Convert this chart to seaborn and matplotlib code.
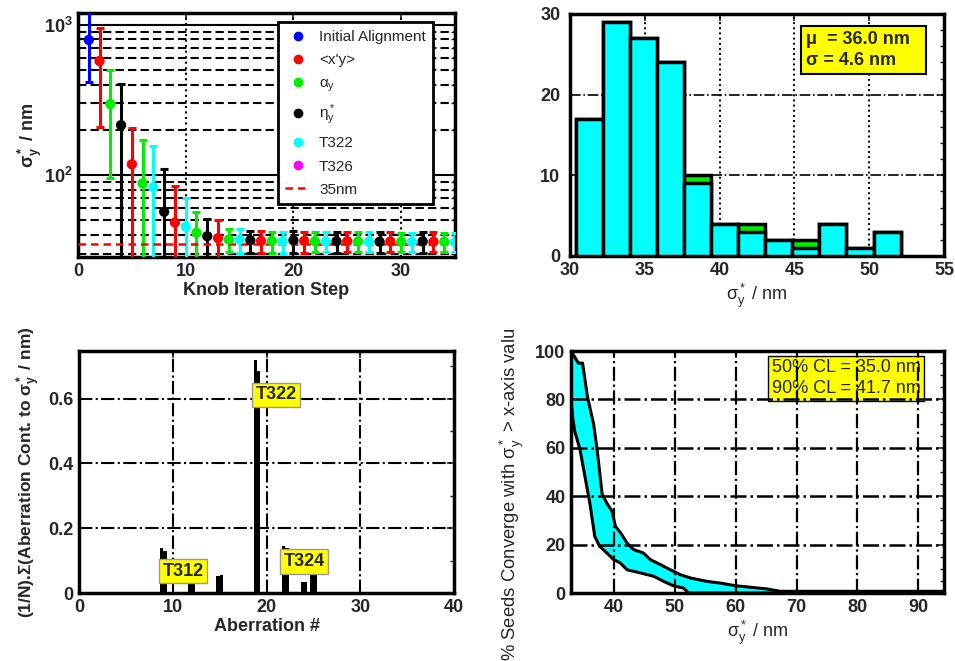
import numpy as np
import matplotlib
matplotlib.use("Agg")
import matplotlib.pyplot as plt
import seaborn as sns
import pandas as pd
from matplotlib.lines import Line2D
from matplotlib.transforms import Bbox

# ---------------- Data ----------------
# Top-left: knob iteration convergence
steps = list(range(1, 36))
step_knob = (["Initial Alignment", "xy", "alpha", "eta", "xy", "alpha", "T322", "eta",
              "xy", "T322", "alpha", "eta", "xy"] +
             ["alpha", "T322", "eta", "xy"] * 5 + ["alpha", "T322"])
step_mean = [794, 575, 297, 215, 118, 88, 83, 57, 48.3, 45.3, 41.3, 39.2, 38.0,
             37.2, 37.2, 36.8, 36.5, 36.5, 36.3, 36.8, 36.5, 36.3, 36.2, 36.3, 36.3,
             36.2, 36.0, 36.0, 36.2, 36.0, 36.0, 36.2, 36.0, 36.0, 35.8]
step_low = [419, 208, 96, 20, 20, 20, 20, 20, 20, 20, 20, 20, 20,
            30.8, 30.5, 30.3, 30.5, 30.5, 30.5, 30.3, 30.5, 30.8, 30.8, 30.5, 30.8,
            30.8, 30.8, 30.5, 30.8, 30.8, 31.0, 30.5, 30.8, 30.8, 31.0]
step_high = [1400, 950, 501, 404, 206, 171, 156, 109, 85, 70, 56.6, 51.4, 50.0,
             44.0, 44.0, 42.5, 42.5, 42.0, 42.0, 42.5, 42.0, 41.5, 41.5, 42.0, 41.5,
             41.5, 41.5, 41.5, 41.5, 41.0, 41.0, 41.5, 41.5, 41.0, 41.0]
knob_names = ["Initial Alignment", "xy", "alpha", "eta", "T322", "T326"]
knob_labels = ["Initial Alignment", "<x'y>", r"$\alpha_y$", r"$\eta^*_y$", "T322", "T326"]
knob_colors = ["#0000ff", "#ff0000", "#00ee00", "#000000", "#00ffff", "#ff00ff"]
target_nm = 35

# Top-right: histogram of final sigma*_y
hist_edges = [30.40, 32.21, 34.02, 35.82, 37.63, 39.44, 41.25, 43.06, 44.86, 46.67, 48.48, 50.29, 52.10]
hist_all = [17, 29, 27, 24, 10, 4, 4, 2, 2, 4, 1, 3]
hist_conv = [17, 29, 27, 24, 9, 4, 3, 2, 1, 4, 1, 3]
hist_text = "\u03bc  = 36.0 nm  \n\u03c3 = 4.6 nm"

# Bottom-left: aberration contributions
aberr_idx = [9, 12, 15, 19, 22, 24, 25]
aberr_a = [0.140, 0.040, 0.054, 0.720, 0.146, 0.034, 0.065]
aberr_b = [0.130, 0.035, 0.055, 0.685, 0.140, 0.034, 0.060]
aberr_tags = ["T312", "T322", "T324"]
aberr_tag_x = [11.1, 21.0, 24.0]
aberr_tag_y = [0.067, 0.612, 0.097]

# Bottom-right: % seeds converging with sigma*_y > x
cl_upper_x = [33.0, 33.5, 34.2, 34.9, 35.7, 36.7, 37.3, 38.1, 38.9, 39.7, 40.3, 41.1, 42.2,
              43.3, 44.9, 46.0, 47.7, 49.3, 50.9, 52.6, 55.3, 57.5, 60.0, 65.1, 67.3, 94.2]
cl_upper_y = [100, 98, 95, 95, 81, 70, 59, 41, 37, 34, 27.5, 25, 20.6,
              17.9, 16.5, 13.8, 11.7, 9.6, 7.6, 6.2, 4.8, 4.1, 3.0, 1.7, 0.7, 0.7]
cl_lower_x = [33.0, 33.3, 33.6, 34.5, 35.3, 36.1, 36.9, 37.7, 38.9, 40.0, 41.1, 42.2,
              44.4, 46.6, 48.2, 49.8, 51.5, 52.3, 94.2]
cl_lower_y = [80, 72, 67, 59, 48, 37, 23.4, 19.3, 16.5, 13.8, 12.4, 9.6,
              8.3, 6.9, 4.8, 3.0, 2.0, 0.0, 0.0]
cl_text = "50% CL = 35.0 nm\n90% CL = 41.7 nm"

# ---------------- Style ----------------
sns.set_style("white")
plt.rcParams['font.family'] = ['Liberation Sans', 'DejaVu Sans']
plt.rcParams['mathtext.fontset'] = 'custom'
plt.rcParams['mathtext.rm'] = 'Liberation Sans'
plt.rcParams['mathtext.it'] = 'Liberation Sans:italic'
plt.rcParams['mathtext.bf'] = 'Liberation Sans:bold'
plt.rcParams['mathtext.default'] = 'regular'
plt.rcParams['axes.linewidth'] = 2.5
plt.rcParams['xtick.direction'] = 'in'
plt.rcParams['ytick.direction'] = 'in'

W, H = 955, 661
fig = plt.figure(figsize=(W / 100, H / 100), dpi=100)


def px_axes(l, t, r, b):
    return fig.add_axes([l / W, 1 - b / H, (r - l) / W, (b - t) / H])


def style_ticks(ax, size=13, ypad=4):
    ax.tick_params(axis='both', which='major', direction='in', top=True, right=True,
                   length=5, width=1.2, labelsize=size, pad=4)
    ax.tick_params(axis='y', which='major', pad=ypad)
    ax.tick_params(axis='both', which='minor', direction='in', top=True, right=True,
                   length=3, width=1.0)
    for lab in ax.get_xticklabels() + ax.get_yticklabels():
        lab.set_fontweight('bold')
    for s in ax.spines.values():
        s.set_linewidth(2.5)
        s.set_color('black')


# ---------------- Top-left ----------------
ax1 = px_axes(78, 13, 455, 257)
df1 = pd.DataFrame({"step": steps, "knob": step_knob, "mean": step_mean,
                    "low": step_low, "high": step_high})
cmap = dict(zip(knob_names, knob_colors))
ax1.set_yscale('log')
for _, r in df1.iterrows():
    ax1.errorbar(r["step"], r["mean"], yerr=[[r["mean"] - r["low"]], [r["high"] - r["mean"]]],
                 fmt='none', ecolor=cmap[r["knob"]], elinewidth=2.2, capsize=3, capthick=2.2,
                 zorder=3)
sns.scatterplot(data=df1, x="step", y="mean", hue="knob", hue_order=knob_names,
                palette=knob_colors, s=55, edgecolor='none', legend=False, ax=ax1, zorder=4)
ax1.axhline(target_nm, color='red', ls='--', lw=1.8, dashes=(3, 2), zorder=3.5)
ax1.set_xlim(0, 35)
ax1.set_ylim(28.5, 1200)
ax1.set_xticks([0, 10, 20, 30])
for v in [100, 1000]:
    ax1.axhline(v, color='black', lw=1.5, zorder=1)
for v in list(range(30, 100, 10)) + list(range(200, 1000, 100)):
    ax1.axhline(v, color='black', lw=1.5, ls='--', dashes=(4, 2), zorder=1)
for v in [10, 20, 30]:
    ax1.axvline(v, color='black', lw=1.5, ls=':', zorder=1)
ax1.set_xlabel("Knob Iteration Step", fontsize=13, fontweight='bold', labelpad=2)
ax1.set_ylabel("\u03c3$^*_y$ / nm", fontsize=13, fontweight='bold', labelpad=0)
style_ticks(ax1)
handles = [Line2D([], [], ls='none', marker='o', ms=6, mfc=c, mec=c) for c in knob_colors]
handles.append(Line2D([], [], color='red', ls='--', lw=1.8, dashes=(3, 2)))
leg = ax1.legend(handles, knob_labels + ["35nm"], loc='upper left',
                 bbox_to_anchor=(0.53, 0.962), fontsize=11, frameon=True, fancybox=False,
                 framealpha=1, edgecolor='black', handlelength=1.6, handletextpad=0.6,
                 labelspacing=0.6, borderpad=0.5, borderaxespad=0)
leg.get_frame().set_linewidth(2)
leg.set_zorder(10)

# ---------------- Top-right ----------------
ax2 = px_axes(570, 14, 944, 256)
centers = [(hist_edges[i] + hist_edges[i + 1]) / 2 for i in range(len(hist_all))]
sns.histplot(x=centers, weights=hist_all, bins=hist_edges, color='#00ee00', alpha=1,
             edgecolor='black', linewidth=2.5, ax=ax2, zorder=3)
sns.histplot(x=centers, weights=hist_conv, bins=hist_edges, color='#00ffff', alpha=1,
             edgecolor='black', linewidth=2.5, ax=ax2, zorder=4)
ax2.set_xlim(30, 55)
ax2.set_ylim(0, 30)
ax2.set_xticks([30, 35, 40, 45, 50, 55])
ax2.set_yticks([0, 10, 20, 30])
ax2.set_yticks(np.arange(0, 31, 2), minor=True)
for v in [10, 20]:
    ax2.axhline(v, color='black', lw=1.2, ls='-.', zorder=1)
for v in [35, 40, 45, 50]:
    ax2.axvline(v, color='black', lw=1.4, ls=':', zorder=1)
ax2.set_xlabel("\u03c3$^*_y$ / nm", fontsize=13, labelpad=2)
ax2.set_ylabel("")
style_ticks(ax2, ypad=7)
ax2.text(0.632, 0.93, hist_text, transform=ax2.transAxes, ha='left', va='top',
         fontsize=13, fontweight='bold', linespacing=1.3, zorder=6,
         bbox=dict(boxstyle='square,pad=0.3', fc='#ffff00', ec='black', lw=1.5))

# ---------------- Bottom-left ----------------
ax3 = px_axes(79, 351, 454, 593)
ax3.bar([x - 0.17 for x in aberr_idx], aberr_a, width=0.36, color='black',
        edgecolor='black', linewidth=0, zorder=3)
ax3.bar([x + 0.17 for x in aberr_idx], aberr_b, width=0.36, color='black',
        edgecolor='black', linewidth=0, zorder=3)
ax3.set_xlim(0, 40)
ax3.set_ylim(0, 0.747)
ax3.set_xticks([0, 10, 20, 30, 40])
ax3.set_yticks([0, 0.2, 0.4, 0.6])
ax3.set_yticklabels(["0", "0.2", "0.4", "0.6"])
ax3.set_yticks(np.arange(0, 0.75, 0.1), minor=True)
for v in [0.2, 0.4, 0.6]:
    ax3.axhline(v, color='black', lw=1.5, ls='-.', zorder=1)
for v in [10, 20, 30]:
    ax3.axvline(v, color='black', lw=1.5, ls='-.', zorder=1)
for t, x, y in zip(aberr_tags, aberr_tag_x, aberr_tag_y):
    ax3.text(x, y, t, ha='center', va='center', fontsize=13, fontweight='bold', zorder=6,
             bbox=dict(boxstyle='square,pad=0.2', fc='#ffff00', ec='#999999', lw=1.0))
ax3.set_xlabel("Aberration #", fontsize=13, fontweight='bold', labelpad=2)
ax3.set_ylabel("(1/N).\u03a3(Aberration Cont. to \u03c3$^*_y$ / nm)", fontsize=12.5,
               fontweight='bold', labelpad=4)
style_ticks(ax3)

# ---------------- Bottom-right ----------------
ax4 = px_axes(571, 351, 944, 593)
poly_x = cl_upper_x + cl_lower_x[::-1]
poly_y = cl_upper_y + cl_lower_y[::-1]
ax4.fill(poly_x, poly_y, color='#00ffff', zorder=2, lw=0)
sns.lineplot(x=cl_upper_x, y=cl_upper_y, color='black', lw=2.2, ax=ax4, zorder=4,
             estimator=None, sort=False)
sns.lineplot(x=cl_lower_x, y=cl_lower_y, color='black', lw=2.2, ax=ax4, zorder=4,
             estimator=None, sort=False)
ax4.set_xlim(33.0, 94.2)
ax4.set_ylim(0, 100)
ax4.set_xticks([40, 50, 60, 70, 80, 90])
ax4.set_yticks([0, 20, 40, 60, 80, 100])
ax4.set_yticks(np.arange(0, 101, 5), minor=True)
ax4.text(0.538, 0.965, cl_text, transform=ax4.transAxes, ha='left', va='top',
         fontsize=13, linespacing=1.3, zorder=3,
         bbox=dict(boxstyle='square,pad=0.2', fc='#ffff00', ec='black', lw=1.0))
for v in [20, 40, 60, 80]:
    ax4.axhline(v, color='black', lw=1.8, ls='-.', zorder=5)
for v in [40, 50, 60, 70, 80, 90]:
    ax4.axvline(v, color='black', lw=1.6, ls='-.', zorder=5)
ax4.set_xlabel("\u03c3$^*_y$ / nm", fontsize=13, labelpad=2)
ax4.set_ylabel("% Seeds Converge with \u03c3$^*_y$ > x-axis value", fontsize=13.3)
style_ticks(ax4)
ax4.yaxis.set_label_coords(-0.12, 0.43)
ax4.yaxis.label.set_clip_box(Bbox([[470, 0], [570, H - 330]]))
ax4.yaxis.label.set_clip_on(True)

fig.savefig("out.png", dpi=100)
